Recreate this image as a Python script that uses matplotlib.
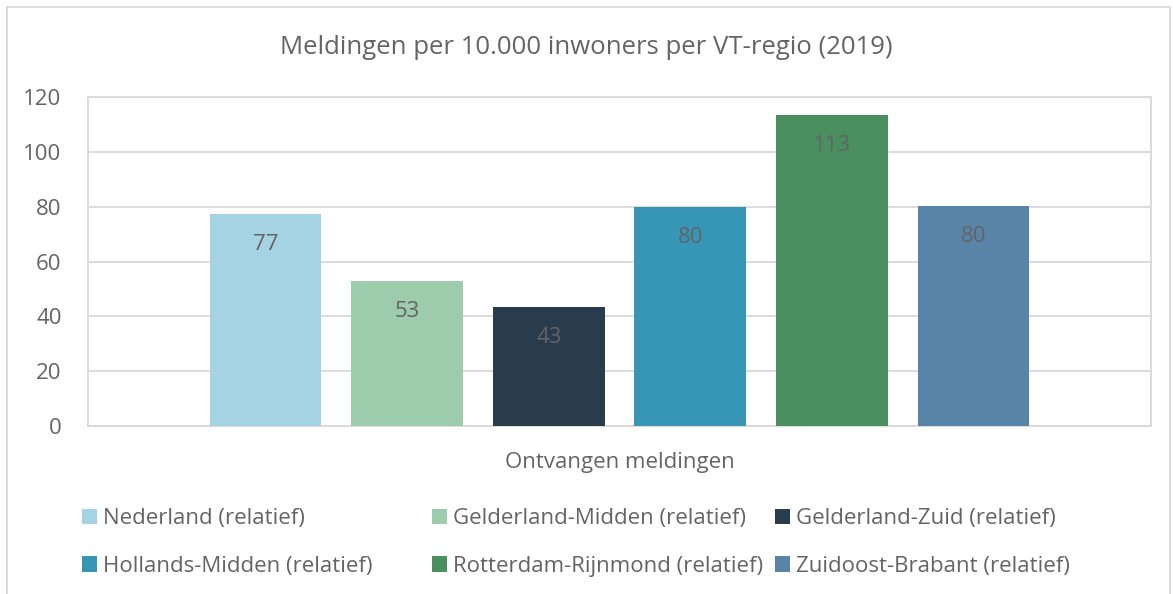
import matplotlib
matplotlib.use("Agg")
import matplotlib.pyplot as plt
from matplotlib.patches import Patch, Rectangle

plt.rcParams['font.family'] = ['Open Sans', 'DejaVu Sans']

# data
regios = ['Nederland (relatief)', 'Gelderland-Midden (relatief)', 'Gelderland-Zuid (relatief)',
          'Hollands-Midden (relatief)', 'Rotterdam-Rijnmond (relatief)', 'Zuidoost-Brabant (relatief)']
meldingen = [77.3, 52.9, 43.4, 79.8, 113.3, 80.4]
kleuren = ['#A5D3E3', '#9DCCAD', '#293C4C', '#3795B5', '#4A8F60', '#5884A8']
categorie = 'Ontvangen meldingen'
yticks = [0, 20, 40, 60, 80, 100, 120]

grijs = '#646464'
lijn = '#d9d9d9'
fs = 16

fig = plt.figure(figsize=(11.73, 5.94), dpi=100)
ax = fig.add_axes([88/1173, 1 - 426/594, (1151-88)/1173, (426-97)/594])

pos = list(range(len(meldingen)))
bars = ax.bar(pos, meldingen, width=0.79, color=kleuren, zorder=3)

for b, v in zip(bars, meldingen):
    ax.annotate(f'{v:.0f}', (b.get_x() + b.get_width()/2, v), xytext=(0, -22),
                textcoords='offset points', ha='center', va='center',
                fontsize=fs, color=grijs, zorder=4)

ax.set_xlim(-1.254, 6.254)
ax.set_ylim(0, 120)
ax.set_yticks(yticks)
ax.set_xticks([])
ax.grid(axis='y', color=lijn, linewidth=1.3, zorder=0)
for s in ax.spines.values():
    s.set_color(lijn)
    s.set_linewidth(1.3)
ax.tick_params(axis='y', length=0, pad=19, labelsize=fs, labelcolor=grijs)
ax.set_xlabel(categorie, fontsize=fs, color=grijs, labelpad=19)

fig.suptitle('Meldingen per 10.000 inwoners per VT-regio (2019)', fontsize=18.5,
             color=grijs, y=1 - 47/594, va='center')

# legend in three columns, like the original
kol_x = [82, 432, 775]
for k in range(3):
    idx = [k, k + 3]
    handles = [Patch(facecolor=kleuren[i], edgecolor='none') for i in idx]
    labels = [regios[i] for i in idx]
    fig.legend(handles, labels, loc='upper left', bbox_to_anchor=(kol_x[k]/1173, 1 - 508/594),
               frameon=False, fontsize=fs, labelcolor=grijs, borderpad=0, borderaxespad=0,
               handlelength=0.68, handleheight=0.68, handletextpad=0.27, labelspacing=1.2)

fig.add_artist(Rectangle((7/1173, -0.01), (1170-7)/1173, 1 - 7/594 + 0.01,
                         transform=fig.transFigure, fill=False, edgecolor=lijn, linewidth=1.3))

fig.savefig('out.png', dpi=100)
